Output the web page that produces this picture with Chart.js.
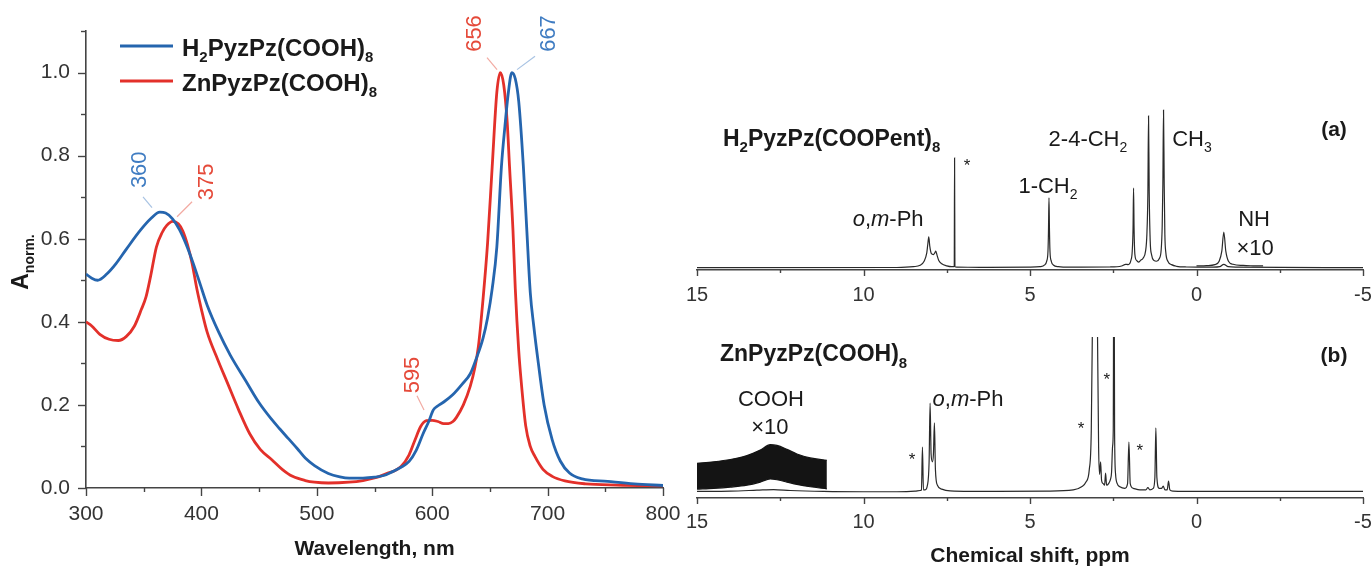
<!DOCTYPE html>
<html><head><meta charset="utf-8">
<script src="https://cdn.jsdelivr.net/npm/chart.js@4/dist/chart.umd.min.js"></script>
<style>
html,body{margin:0;padding:0;background:#fff;}
#wrap{position:relative;width:1371px;height:569px;overflow:hidden;background:#fff;}
#wrap canvas{position:absolute;left:0;top:0;}
</style></head><body>
<div id="wrap">
<canvas id="uv" width="1371" height="569"></canvas>
<canvas id="nmrA" width="1371" height="569"></canvas>
<canvas id="nmrB" width="1371" height="569"></canvas>
</div>
<script>
// ---------------- DATA ----------------
const seriesNames = ['H2PyzPz(COOH)8', 'ZnPyzPz(COOH)8'];
const uvWavelengthH2 = [300,305,310,318,326,335,347,356,364,369,375,381,387,393,399,405,415,425,438,450,460,468,475,483,490,498,510,520,528,540,550,558,566,573,580,586,592,597,601,605,610,618,626,633,638,644,648,652,656,660,663,666,669,672,675,679,682,685,688,692,697,704,711,719,730,752,775,800];
const uvAbsorbanceH2 = [0.515,0.505,0.50,0.515,0.54,0.575,0.62,0.648,0.664,0.662,0.648,0.622,0.585,0.54,0.49,0.44,0.375,0.32,0.26,0.205,0.168,0.142,0.12,0.095,0.072,0.054,0.035,0.027,0.024,0.024,0.026,0.03,0.04,0.05,0.064,0.09,0.13,0.16,0.188,0.198,0.207,0.225,0.25,0.275,0.31,0.36,0.41,0.48,0.58,0.774,0.87,0.952,1.0,0.985,0.93,0.774,0.62,0.47,0.39,0.30,0.20,0.116,0.065,0.036,0.022,0.016,0.01,0.006];
const uvWavelengthZn = [300,305,312,320,328,335,342,348,352,356,361,366,370,375,380,384,388,392,396,400,405,414,423,432,442,451,461,470,479,490,498,510,528,540,550,560,573,580,585,590,595,600,605,610,614,618,621,627,633,637,640,644,648,652,656,659,662,665,667,670,672,675,677,681,685,689,696,704,715,733,760,800];
const uvAbsorbanceZn = [0.40,0.39,0.37,0.358,0.355,0.365,0.39,0.43,0.46,0.51,0.58,0.615,0.632,0.642,0.636,0.618,0.585,0.54,0.48,0.43,0.375,0.31,0.25,0.19,0.13,0.093,0.068,0.045,0.028,0.018,0.014,0.012,0.014,0.018,0.024,0.034,0.052,0.08,0.115,0.148,0.162,0.163,0.16,0.155,0.155,0.16,0.17,0.2,0.245,0.29,0.34,0.453,0.59,0.774,0.952,1.0,0.97,0.88,0.774,0.62,0.48,0.33,0.26,0.15,0.1,0.076,0.045,0.028,0.017,0.01,0.007,0.005];
const uvXTickLabels = [300,400,500,600,700,800];
const uvYTickLabels = ['0.0','0.2','0.4','0.6','0.8','1.0'];
const uvPeakLabels = ['360','375','656','667','595'];

const nmrTickLabels = [15,10,5,0,-5];
const nmrATitle = 'H2PyzPz(COOPent)8';
const nmrAShift = [15,9.0,8.5,8.3,8.18,8.1,8.07,8.04,8.01,7.96,7.9,7.86,7.83,7.79,7.74,7.65,7.5,7.35,7.275,7.265,7.255,7.2,6.5,5.0,4.7,4.56,4.5,4.46,4.445,4.43,4.415,4.40,4.36,4.30,4.15,3.8,2.6,2.25,2.13,2.05,1.97,1.93,1.905,1.89,1.875,1.85,1.8,1.74,1.68,1.6,1.53,1.49,1.46,1.44,1.42,1.39,1.35,1.28,1.2,1.12,1.06,1.03,1.01,0.99,0.97,0.95,0.92,0.86,0.75,0.6,0.3,-0.5,-0.7,-0.82,-0.95,-1.2,-5];
const nmrAIntensity = [0.002,0.003,0.008,0.016,0.04,0.09,0.14,0.185,0.13,0.085,0.08,0.09,0.10,0.075,0.045,0.025,0.013,0.008,0.008,0.655,0.008,0.005,0.004,0.005,0.008,0.018,0.04,0.1,0.22,0.417,0.22,0.1,0.04,0.018,0.008,0.005,0.006,0.012,0.022,0.02,0.045,0.1,0.24,0.476,0.24,0.08,0.045,0.035,0.045,0.06,0.1,0.2,0.45,0.905,0.45,0.16,0.08,0.045,0.04,0.055,0.11,0.25,0.5,0.94,0.5,0.2,0.09,0.04,0.02,0.01,0.006,0.005,0.008,0.022,0.008,0.005,0.002];
const nmrANHShift = [0,-0.3,-0.55,-0.68,-0.76,-0.82,-0.88,-0.96,-1.1,-1.4,-1.7,-2.0];
const nmrANHIntensity = [0.012,0.014,0.02,0.04,0.1,0.214,0.1,0.04,0.022,0.015,0.013,0.012];

const nmrBTitle = 'ZnPyzPz(COOH)8';
const nmrBShift = [15,14,13.2,12.7,12.2,11.2,10,9,8.45,8.3,8.26,8.23,8.20,8.15,8.08,8.03,8.0,7.97,7.93,7.9,7.87,7.84,7.78,7.65,7.4,6,4.5,3.7,3.45,3.32,3.22,3.16,3.12,3.08,3.02,2.98,2.94,2.91,2.88,2.85,2.8,2.76,2.73,2.7,2.64,2.58,2.55,2.52,2.50,2.48,2.46,2.43,2.38,2.3,2.15,2.07,2.03,1.99,1.9,1.7,1.52,1.46,1.4,1.3,1.25,1.22,1.19,1.12,1.05,1.0,0.95,0.88,0.84,0.8,0.7,0.4,-1,-3,-5];
const nmrBIntensity = [0.01,0.012,0.018,0.022,0.016,0.01,0.008,0.008,0.012,0.016,0.02,0.295,0.02,0.02,0.05,0.2,0.577,0.25,0.2,0.25,0.449,0.15,0.05,0.025,0.014,0.01,0.012,0.02,0.04,0.07,0.15,0.4,1.2,2.0,2.0,1.2,0.3,0.12,0.2,0.08,0.06,0.05,0.128,0.05,0.06,0.09,0.135,0.3,0.4,2.0,0.4,0.12,0.06,0.04,0.03,0.06,0.327,0.06,0.03,0.02,0.02,0.035,0.02,0.03,0.1,0.417,0.1,0.03,0.03,0.045,0.02,0.02,0.077,0.02,0.012,0.01,0.01,0.01,0.01];
const nmrBCoohShift = [15.0,14.5,14.0,13.5,13.1,12.8,12.6,12.3,12.0,11.6,11.1];
const nmrBCoohUpper = [0.19,0.2,0.215,0.24,0.275,0.31,0.305,0.28,0.25,0.225,0.21];
const nmrBCoohLower = [0.025,0.03,0.038,0.05,0.07,0.09,0.085,0.07,0.055,0.04,0.027];

// ---------------- HELPERS ----------------
const FAM = '"Liberation Sans", Arial, Helvetica, sans-serif';
function toXY(xs, ys){ return xs.map((x,i)=>({x:x, y:ys[i]})); }
function richParts(str){
  const parts=[]; let prev=''; let prevSub=false;
  for (const ch of str){
    let sub=false;
    if (/[0-9]/.test(ch)){
      if (/[A-Za-z)]/.test(prev)) sub=true;
      else if (/[0-9]/.test(prev)) sub=prevSub;
    }
    const last=parts[parts.length-1];
    if (last && last.sub===sub) last.t+=ch; else parts.push({t:ch, sub:sub});
    prev=ch; prevSub=sub;
  }
  return parts;
}
function drawRich(ctx, parts, x, y, o){
  const fontFor = p => `${p.i?'italic ':''}${o.bold?'bold ':''}${p.sub?Math.round(o.size*(o.subScale||0.64)):o.size}px ${FAM}`;
  ctx.save();
  ctx.translate(x,y);
  if (o.rotate) ctx.rotate(o.rotate);
  let w=0;
  for (const p of parts){ ctx.font=fontFor(p); p.w=ctx.measureText(p.t).width; w+=p.w; }
  let cx = o.align==='left' ? 0 : (o.align==='right' ? -w : -w/2);
  ctx.fillStyle=o.color; ctx.textAlign='left'; ctx.textBaseline='alphabetic';
  const base = o.size*0.358;
  for (const p of parts){ ctx.font=fontFor(p); ctx.fillText(p.t, cx, base + (p.sub ? o.size*0.27 : 0)); cx+=p.w; }
  ctx.restore();
}
function line(ctx,x1,y1,x2,y2,color,w){ ctx.save(); ctx.strokeStyle=color; ctx.lineWidth=w; ctx.beginPath(); ctx.moveTo(x1,y1); ctx.lineTo(x2,y2); ctx.stroke(); ctx.restore(); }
// tick marks: long for labelled ticks, short for the others, drawn outward
function tickPlugin(spec){
  return {id:'tickMarks', afterDraw(chart){
    const ctx=chart.ctx;
    Object.keys(spec).forEach(k=>{
      const s=chart.scales[k], t=spec[k];
      ctx.save(); ctx.strokeStyle=t.color; ctx.lineWidth=1.4;
      s.ticks.forEach(tk=>{
        const len = t.isMajor(tk.value) ? t.major : t.minor;
        const p = Math.round(s.getPixelForValue(tk.value))+0.5;
        ctx.beginPath();
        if (s.isHorizontal()){ ctx.moveTo(p, s.top); ctx.lineTo(p, s.top+len); }
        else { ctx.moveTo(s.right, p); ctx.lineTo(s.right-len, p); }
        ctx.stroke();
      });
      ctx.restore();
    });
  }};
}

const BLUE='#2565ae', RED='#e3302a', BLUE_T='#3f7cc2', RED_T='#e54a3a', BLUE_L='#a8c3e3', RED_L='#f2aaa2';
const SPEC='#2a2a2a', AXIS='#444', TICK='#333';
const noGrid = {drawOnChartArea:false, drawTicks:false};

// ---------------- UV-VIS ----------------
const uvLayout = [ // label positions in data units (nm, A) + leader lines
  {c:BLUE_T, l:BLUE_L, x:345.1, y:0.766, a:[357.2,0.675,349.4,0.701]},
  {c:RED_T,  l:RED_L,  x:403.1, y:0.737, a:[378.9,0.653,391.9,0.689]},
  {c:RED_T,  l:RED_L,  x:635.4, y:1.094, a:[656.2,1.007,647.5,1.036]},
  {c:BLUE_T, l:BLUE_L, x:699.5, y:1.094, a:[673.5,1.007,689.1,1.039]},
  {c:RED_T,  l:RED_L,  x:581.6, y:0.272, a:[592.9,0.188,586.8,0.222]}
];
const uvPlugin = {
  id:'uvText',
  afterDatasetsDraw(chart){
    const ctx=chart.ctx, xs=chart.scales.x, ys=chart.scales.y, ca=chart.chartArea;
    uvLayout.forEach((L,i)=>{
      line(ctx, xs.getPixelForValue(L.a[0]), ys.getPixelForValue(L.a[1]), xs.getPixelForValue(L.a[2]), ys.getPixelForValue(L.a[3]), L.l, 1.2);
      drawRich(ctx, [{t:uvPeakLabels[i]}], xs.getPixelForValue(L.x), ys.getPixelForValue(L.y), {size:22, color:L.c, rotate:-Math.PI/2});
    });
    const cols=[BLUE,RED];
    seriesNames.forEach((n,i)=>{
      const y = ca.top + 15 + i*35;
      line(ctx, ca.left+34, y, ca.left+87, y, cols[i], 3);
      drawRich(ctx, richParts(n), ca.left+96, y+1, {size:24, bold:true, color:'#1a1a1a', align:'left'});
    });
    drawRich(ctx, [{t:'A'},{t:'norm.', sub:true}], 20, 262, {size:23, bold:true, color:'#1a1a1a', rotate:-Math.PI/2, subScale:0.62});
  }
};
new Chart(document.getElementById('uv'), {
  type:'line',
  data:{datasets:[
    {label:seriesNames[0], data:toXY(uvWavelengthH2, uvAbsorbanceH2), borderColor:BLUE, borderWidth:2.8, pointRadius:0, cubicInterpolationMode:'monotone', fill:false},
    {label:seriesNames[1], data:toXY(uvWavelengthZn, uvAbsorbanceZn), borderColor:RED, borderWidth:2.8, pointRadius:0, cubicInterpolationMode:'monotone', fill:false}
  ]},
  options:{
    responsive:false, animation:false, events:[],
    layout:{padding:{left:0, top:31, right:708, bottom:0}},
    plugins:{legend:{display:false}, tooltip:{enabled:false}},
    scales:{
      x:{type:'linear', min:300, max:800, afterFit:s=>{s.height=81; s.paddingLeft=0; s.paddingRight=0;},
        ticks:{stepSize:50, autoSkip:false, maxRotation:0, padding:14, color:TICK, font:{family:FAM, size:21},
          callback:v=> uvXTickLabels.includes(v) ? String(v) : ''},
        grid:noGrid,
        border:{display:true, color:AXIS, width:1.6},
        title:{display:true, text:'Wavelength, nm', color:'#1a1a1a', font:{family:FAM, size:21, weight:'bold'}, padding:{top:0,bottom:7}}},
      y:{type:'linear', min:0, max:1.1, afterFit:s=>{s.width=86; s.paddingTop=0; s.paddingBottom=0;},
        ticks:{stepSize:0.1, autoSkip:false, padding:16, color:TICK, font:{family:FAM, size:21},
          callback:v=>{ const s=(Math.round(v*10)/10).toFixed(1); return uvYTickLabels.includes(s) ? s : ''; }},
        grid:noGrid,
        border:{display:true, color:AXIS, width:1.6}}
    }
  },
  plugins:[uvPlugin, tickPlugin({
    x:{color:AXIS, major:8, minor:4, isMajor:v=>uvXTickLabels.includes(v)},
    y:{color:AXIS, major:8, minor:5, isMajor:v=>uvYTickLabels.includes((Math.round(v*10)/10).toFixed(1))}
  })]
});

// ---------------- NMR common ----------------
function nmrX(pad, h, extra){
  return Object.assign({type:'linear', min:-5, max:15, reverse:true,
    afterFit:s=>{s.height=h; s.paddingLeft=0; s.paddingRight=0;},
    ticks:{stepSize:2.5, autoSkip:false, maxRotation:0, padding:pad, color:TICK, font:{family:FAM, size:20},
      callback:v=> nmrTickLabels.includes(v) ? String(v) : ''},
    grid:noGrid,
    border:{display:true, color:AXIS, width:1.6}}, extra||{});
}
const nmrTicks = {x:{color:AXIS, major:6, minor:3, isMajor:v=>nmrTickLabels.includes(v)}};
function textPlugin(id, items){
  return {id:id, afterDatasetsDraw(chart){
    const ctx=chart.ctx, xs=chart.scales.x, ys=chart.scales.y;
    items.forEach(it=>{
      drawRich(ctx, it.parts, xs.getPixelForValue(it.x), ys.getPixelForValue(it.y), {size:it.size, bold:it.bold, color:'#1a1a1a', align:it.align||'center'});
    });
  }};
}
const omPh = [{t:'o',i:true},{t:','},{t:'m',i:true},{t:'-Ph'}];

// ---------------- NMR (a) ----------------
new Chart(document.getElementById('nmrA'), {
  type:'line',
  data:{datasets:[
    {data:toXY(nmrAShift, nmrAIntensity), borderColor:SPEC, borderWidth:1.2, pointRadius:0, cubicInterpolationMode:'monotone', fill:false},
    {data:toXY(nmrANHShift, nmrANHIntensity), borderColor:SPEC, borderWidth:1.2, pointRadius:0, cubicInterpolationMode:'monotone', fill:false}
  ]},
  options:{
    responsive:false, animation:false, events:[],
    layout:{padding:{left:697, top:100, right:8, bottom:259}},
    plugins:{legend:{display:false}, tooltip:{enabled:false}},
    scales:{
      x:nmrX(13, 40),
      y:{type:'linear', display:false, min:-0.012, max:1.0}
    }
  },
  plugins:[tickPlugin(nmrTicks), textPlugin('nmrAText', [
    {parts:richParts(nmrATitle), x:14.22, y:0.774, size:23, bold:true, align:'left'},
    {parts:[{t:'*'}], x:6.89, y:0.613, size:17},
    {parts:richParts('1-CH2'), x:4.46, y:0.494, size:22},
    {parts:omPh, x:9.26, y:0.298, size:22},
    {parts:richParts('2-4-CH2'), x:3.26, y:0.774, size:22},
    {parts:richParts('CH3'), x:0.135, y:0.774, size:22},
    {parts:[{t:'(a)'}], x:-4.13, y:0.833, size:21, bold:true},
    {parts:[{t:'NH'}], x:-1.73, y:0.298, size:22},
    {parts:[{t:'\u00d710'}], x:-1.76, y:0.125, size:22}
  ])]
});

// ---------------- NMR (b) ----------------
new Chart(document.getElementById('nmrB'), {
  type:'line',
  data:{datasets:[
    {data:toXY(nmrBCoohShift, nmrBCoohUpper), borderColor:'#141414', backgroundColor:'#141414', borderWidth:1.2, pointRadius:0, cubicInterpolationMode:'monotone', fill:'+1'},
    {data:toXY(nmrBCoohShift, nmrBCoohLower), borderColor:'#141414', borderWidth:1.2, pointRadius:0, cubicInterpolationMode:'monotone', fill:false},
    {data:toXY(nmrBShift, nmrBIntensity), borderColor:SPEC, borderWidth:1.2, pointRadius:0, cubicInterpolationMode:'monotone', fill:false}
  ]},
  options:{
    responsive:false, animation:false, events:[],
    layout:{padding:{left:697, top:337, right:8, bottom:0}},
    plugins:{legend:{display:false}, tooltip:{enabled:false}},
    scales:{
      x:nmrX(12, 71, {
        title:{display:true, text:'Chemical shift, ppm', color:'#1a1a1a', font:{family:FAM, size:21, weight:'bold'}, padding:{top:0,bottom:0}}}),
      y:{type:'linear', display:false, min:-0.032, max:1.0}
    }
  },
  plugins:[tickPlugin(nmrTicks), textPlugin('nmrBText', [
    {parts:richParts(nmrBTitle), x:14.31, y:0.897, size:23, bold:true, align:'left'},
    {parts:[{t:'COOH'}], x:12.78, y:0.609, size:22},
    {parts:[{t:'\u00d710'}], x:12.81, y:0.429, size:22},
    {parts:omPh, x:6.86, y:0.609, size:22},
    {parts:[{t:'(b)'}], x:-4.13, y:0.885, size:21, bold:true},
    {parts:[{t:'*'}], x:8.54, y:0.218, size:17},
    {parts:[{t:'*'}], x:3.47, y:0.417, size:17},
    {parts:[{t:'*'}], x:2.69, y:0.731, size:17},
    {parts:[{t:'*'}], x:1.70, y:0.276, size:17}
  ])]
});
</script>
</body></html>
